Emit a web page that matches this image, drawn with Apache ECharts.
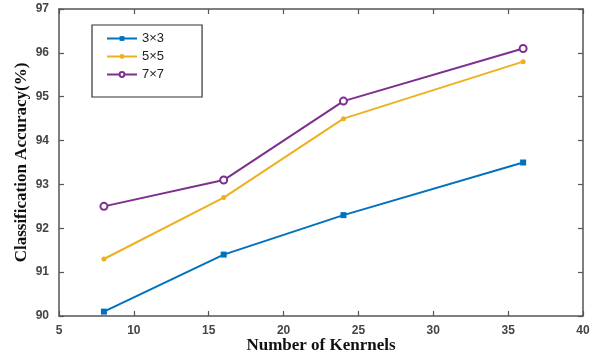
<!DOCTYPE html>
<html><head><meta charset="utf-8">
<script src="https://cdn.jsdelivr.net/npm/echarts@6/dist/echarts.min.js"></script>
<style>html,body{margin:0;padding:0;background:#fff}#c{width:598px;height:358px}</style>
</head><body><div id="c"></div>
<script>
const kernels = [8, 16, 24, 36];
const acc3 = [90.1, 91.4, 92.3, 93.5];
const acc5 = [91.3, 92.7, 94.5, 95.8];
const acc7 = [92.5, 93.1, 94.9, 96.1];
const seriesNames = ['3×3', '5×5', '7×7'];
const xTitle = 'Number of Kenrnels';
const yTitle = 'Classification Accuracy(%)';

const chart = echarts.init(document.getElementById('c'), null, {renderer: 'canvas'});
const axisCol = '#555';
const labelStyle = {color: '#444', fontFamily: 'Liberation Sans, Arial', fontSize: 12, fontWeight: 'bold'};
function pairs(ys){ return kernels.map((x,i)=>[x, ys[i]]); }
chart.setOption({
  animation: false,
  grid: {left: 59, right: 15, top: 9, bottom: 42, containLabel: false, outerBoundsMode: 'none'},
  legend: {
    orient: 'vertical', left: 92, top: 25,
    padding: [7, 38, 16, 14], itemGap: 5, itemWidth: 30, itemHeight: 6,
    borderColor: '#333', borderWidth: 1.2,
    textStyle: {fontFamily: 'Liberation Sans, Arial', fontSize: 13, color: '#222'},
    data: seriesNames
  },
  xAxis: [{
    type: 'value', min: 5, max: 40, interval: 5,
    name: xTitle, nameLocation: 'middle', nameGap: 21, nameMoveOverlap: false,
    nameTextStyle: {fontFamily: 'Liberation Serif, Times New Roman', fontWeight: 'bold', fontSize: 17, color: '#111'},
    axisLine: {show: true, lineStyle: {color: axisCol, width: 1.5}},
    axisTick: {show: true, inside: true, length: 5, lineStyle: {color: axisCol, width: 1.2}},
    axisLabel: Object.assign({margin: 9}, labelStyle),
    splitLine: {show: false}
  }, {
    type: 'value', position: 'top', min: 5, max: 40, interval: 5,
    axisLine: {show: true, lineStyle: {color: axisCol, width: 1.5}},
    axisTick: {show: true, inside: true, length: 5, lineStyle: {color: axisCol, width: 1.2}},
    axisLabel: {show: false}, splitLine: {show: false}
  }],
  yAxis: [{
    type: 'value', min: 90, max: 97, interval: 1,
    name: yTitle, nameLocation: 'middle', nameGap: 29, nameMoveOverlap: false,
    nameTextStyle: {fontFamily: 'Liberation Serif, Times New Roman', fontWeight: 'bold', fontSize: 17, color: '#111'},
    axisLine: {show: true, lineStyle: {color: axisCol, width: 1.5}},
    axisTick: {show: true, inside: true, length: 5, lineStyle: {color: axisCol, width: 1.2}},
    axisLabel: Object.assign({margin: 10}, labelStyle),
    splitLine: {show: false}
  }, {
    type: 'value', position: 'right', min: 90, max: 97, interval: 1,
    axisLine: {show: true, lineStyle: {color: axisCol, width: 1.5}},
    axisTick: {show: true, inside: true, length: 5, lineStyle: {color: axisCol, width: 1.2}},
    axisLabel: {show: false}, splitLine: {show: false}
  }],
  series: [
    {name: seriesNames[0], type: 'line', data: pairs(acc3), symbol: 'rect', symbolSize: 6,
     lineStyle: {color: '#0072BD', width: 2}, itemStyle: {color: '#0072BD'}},
    {name: seriesNames[1], type: 'line', data: pairs(acc5), symbol: 'circle', symbolSize: 5,
     lineStyle: {color: '#EDB120', width: 2}, itemStyle: {color: '#EDB120'}},
    {name: seriesNames[2], type: 'line', data: pairs(acc7), symbol: 'emptyCircle', symbolSize: 7,
     lineStyle: {color: '#7E2F8E', width: 2}, itemStyle: {color: '#7E2F8E', borderWidth: 1.8}}
  ]
});
</script></body></html>
